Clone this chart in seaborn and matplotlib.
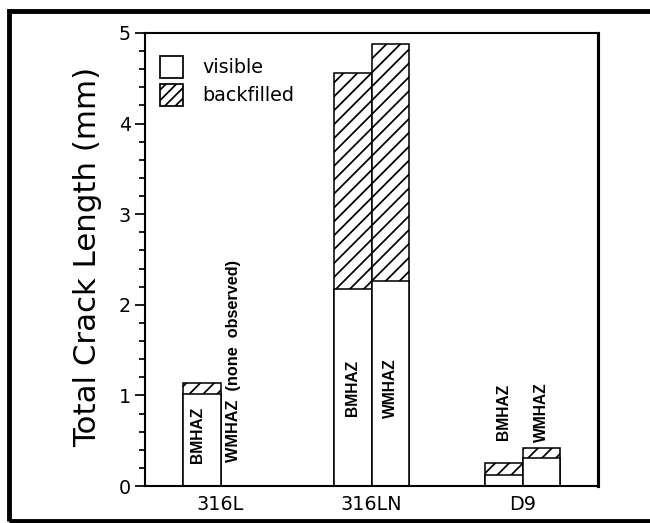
import matplotlib
matplotlib.use("Agg")
import matplotlib.pyplot as plt
from matplotlib.patches import Patch, Rectangle
from matplotlib.ticker import MultipleLocator
import pandas as pd
import seaborn as sns

# 数据: 每种合金两个热影响区 (BMHAZ / WMHAZ)
alloys = ["316L", "316LN", "D9"]
zones = ["BMHAZ", "WMHAZ"]
visible = [1.02, 0.0, 2.17, 2.26, 0.12, 0.31]
backfilled = [0.12, 0.0, 2.39, 2.62, 0.13, 0.11]

df = pd.DataFrame({
    "alloy": [a for a in alloys for z in zones],
    "zone": [z for a in alloys for z in zones],
    "visible": visible,
    "backfilled": backfilled,
})
df["total"] = df["visible"] + df["backfilled"]

sns.set_style("ticks")
plt.rcParams["font.family"] = ["DejaVu Sans"]
plt.rcParams["hatch.linewidth"] = 1.0
plt.rcParams["text.color"] = "black"
plt.rcParams["axes.labelcolor"] = "black"
plt.rcParams["xtick.color"] = "black"
plt.rcParams["ytick.color"] = "black"

fig = plt.figure(figsize=(5.2, 4.184), dpi=125)
ax = fig.add_axes([145 / 650, 37 / 523, 453 / 650, 453 / 523])

# 先画总长 (斜线), 再用白色可见部分盖住下半段
sns.barplot(data=df, x="alloy", y="total", hue="zone", hue_order=zones,
            order=alloys, palette=["white", "white"], saturation=1,
            width=0.5, gap=0, edgecolor="black", linewidth=0.9,
            hatch="///", errorbar=None, legend=False, ax=ax)
sns.barplot(data=df, x="alloy", y="visible", hue="zone", hue_order=zones,
            order=alloys, palette=["white", "white"], saturation=1,
            width=0.5, gap=0, edgecolor="black", linewidth=0.9,
            errorbar=None, legend=False, ax=ax)

# 柱内竖排文字
label_y = {"316L": 0.56, "316LN": 1.08, "D9": 0.82}
vis_bars = ax.containers[2:]
for zi, cont in enumerate(vis_bars):
    for ai, bar in enumerate(cont):
        xc = bar.get_x() + bar.get_width() / 2
        a = alloys[ai]
        if a == "316L" and zones[zi] == "WMHAZ":
            ax.text(xc - 0.04, 0.26, "WMHAZ  (none  observed)", rotation=90,
                    ha="center", va="bottom", fontsize=9.4,
                    fontweight="bold", family="Liberation Sans")
        else:
            dx = -0.03 if a == "316L" else 0
            ax.text(xc + dx, label_y[a], zones[zi], rotation=90,
                    ha="center", va="center", fontsize=9.0,
                    fontweight="bold", family="Liberation Sans")

ax.set_xlim(-0.5, 2.5)
ax.set_ylim(0, 5)
ax.yaxis.set_major_locator(MultipleLocator(1))
ax.yaxis.set_minor_locator(MultipleLocator(0.2))
ax.tick_params(axis="y", which="major", direction="out", length=5.8,
               width=1.0, pad=2.3, labelsize=11)
ax.tick_params(axis="y", which="minor", direction="out", length=3.5,
               width=1.0)
ax.tick_params(axis="x", length=0, pad=5, labelsize=11)
ax.set_xlabel("")
ax.set_ylabel("Total Crack Length (mm)", fontsize=17.8, va="center")
ax.yaxis.set_label_coords(-0.126, 0.505)

for side in ["left", "top", "bottom"]:
    ax.spines[side].set_linewidth(1.2)
ax.spines["right"].set_linewidth(1.8)
for sp in ax.spines.values():
    sp.set_visible(True)
    sp.set_color("black")

handles = [Patch(facecolor="white", edgecolor="black", linewidth=1.0),
           Patch(facecolor="white", edgecolor="black", linewidth=1.0,
                 hatch="////")]
ax.legend(handles, ["visible", "backfilled"], loc="upper left",
          bbox_to_anchor=(0.033, 0.949), frameon=False, fontsize=11,
          handlelength=1.2, handleheight=1.35, handletextpad=1.0,
          labelspacing=0.35, borderpad=0, borderaxespad=0)

# 外框
fig.patches.append(Rectangle((9 / 650, 2.5 / 523), 1.0, 509.5 / 523,
                             transform=fig.transFigure, fill=False,
                             edgecolor="black", linewidth=2.8))

fig.savefig("out.png", dpi=125)
